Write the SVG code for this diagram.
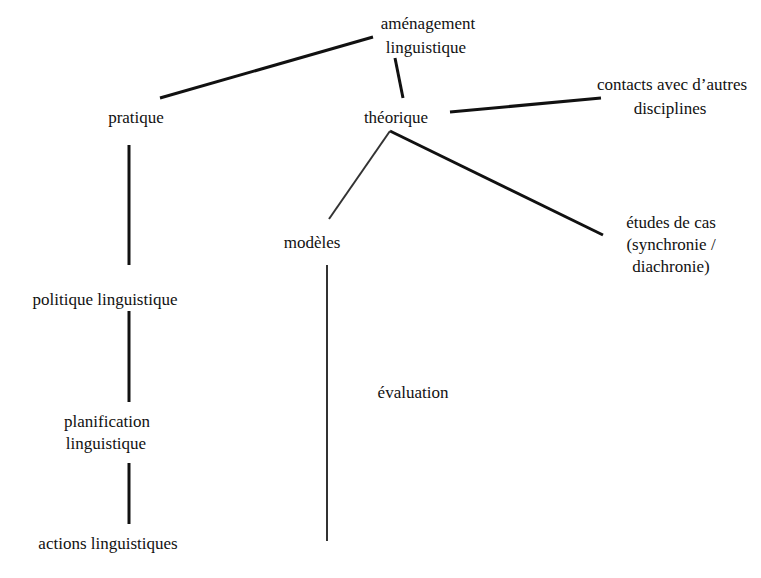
<svg xmlns="http://www.w3.org/2000/svg" width="761" height="578" viewBox="0 0 761 578">
<style>
.n text{font-size:17px;fill:#111;text-anchor:middle}
.c{stroke:#111;stroke-width:3;stroke-linecap:butt;fill:none}
.t{stroke:#333;stroke-width:2;fill:none}
</style>
<rect width="761" height="578" fill="#fff"/>
<g id="connectors">
<line class="c" x1="373" y1="37" x2="160" y2="98"/>
<line class="c" x1="395" y1="58" x2="403" y2="98"/>
<line class="c" x1="450" y1="112" x2="601" y2="98"/>
<line class="c" x1="390" y1="131" x2="603" y2="235"/>
<line class="t" x1="390" y1="131" x2="329" y2="219"/>
<line class="c" x1="129" y1="145" x2="129" y2="265"/>
<line class="c" x1="129" y1="311" x2="129" y2="402"/>
<line class="c" x1="129" y1="463" x2="129" y2="524"/>
<line class="t" x1="327" y1="265" x2="327" y2="541"/>
</g>
<g class="n" font-family="Liberation Serif, DejaVu Serif, serif">
<g id="amenagement"><text x="428" y="29">aménagement</text><text x="426" y="53">linguistique</text></g>
<g id="pratique"><text x="136" y="123">pratique</text></g>
<g id="theorique"><text x="396" y="123">théorique</text></g>
<g id="contacts"><text x="672" y="90">contacts avec d’autres</text><text x="670" y="114">disciplines</text></g>
<g id="modeles"><text x="312" y="248">modèles</text></g>
<g id="etudes"><text x="671" y="228">études de cas</text><text x="671" y="250">(synchronie /</text><text x="671" y="272">diachronie)</text></g>
<g id="politique"><text x="105" y="305">politique linguistique</text></g>
<g id="planification"><text x="107" y="427">planification</text><text x="106" y="449">linguistique</text></g>
<g id="actions"><text x="108" y="549">actions linguistiques</text></g>
<g id="evaluation"><text x="413" y="398">évaluation</text></g>
</g>
</svg>
